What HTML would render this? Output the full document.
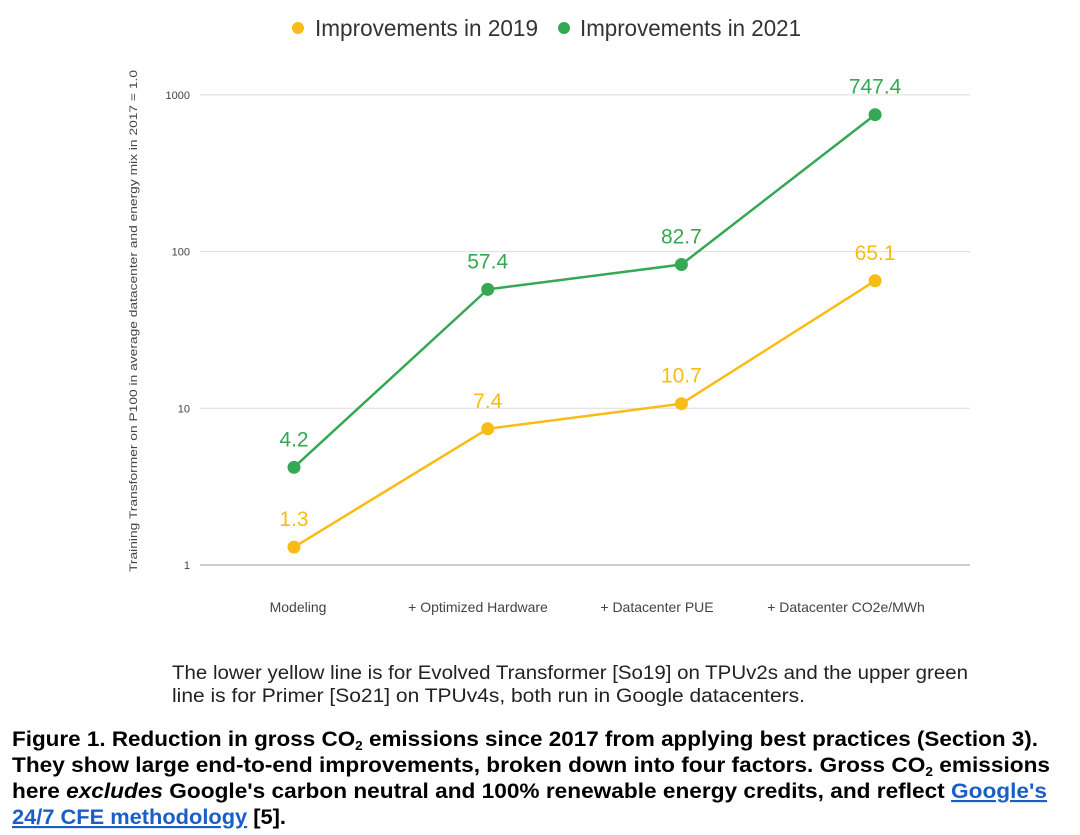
<!DOCTYPE html>
<html><head><meta charset="utf-8"><style>
body{margin:0;background:#fff;}
svg{display:block;font-family:"Liberation Sans",sans-serif;}
</style></head><body>
<svg id="chart" width="1080" height="835" viewBox="0 0 1080 835">
<g>
<circle cx="298" cy="28" r="6" fill="#f9bc15"/>
<text x="315" y="36" font-size="23" fill="#333" textLength="223" lengthAdjust="spacingAndGlyphs">Improvements in 2019</text>
<circle cx="564" cy="28" r="6" fill="#34a853"/>
<text x="580" y="36" font-size="23" fill="#333" textLength="221" lengthAdjust="spacingAndGlyphs">Improvements in 2021</text>
</g>
<text transform="translate(137,321) rotate(-90)" text-anchor="middle" font-size="11" fill="#444" textLength="502" lengthAdjust="spacingAndGlyphs">Training Transformer on P100 in average datacenter and energy mix in 2017 = 1.0</text>
<g id="grid"></g>
<g id="xl"></g>
<g id="series"></g>
<g>
<text x="172" y="679" font-size="19" fill="#222" textLength="796" lengthAdjust="spacingAndGlyphs">The lower yellow line is for Evolved Transformer [So19] on TPUv2s and the upper green</text>
<text x="172" y="702" font-size="19" fill="#222" textLength="633" lengthAdjust="spacingAndGlyphs">line is for Primer [So21] on TPUv4s, both run in Google datacenters.</text>
</g>
<g font-weight="bold" font-size="21.5" fill="#000">
<text x="12" y="746" textLength="1026" lengthAdjust="spacingAndGlyphs">Figure 1. Reduction in gross CO<tspan font-size="13" dy="4">2</tspan><tspan dy="-4"> emissions since 2017 from applying best practices (Section 3).</tspan></text>
<text x="12" y="772" textLength="1038" lengthAdjust="spacingAndGlyphs">They show large end-to-end improvements, broken down into four factors. Gross CO<tspan font-size="13" dy="4">2</tspan><tspan dy="-4"> emissions</tspan></text>
<text x="12" y="798" textLength="1035" lengthAdjust="spacingAndGlyphs">here <tspan font-style="italic">excludes</tspan> Google's carbon neutral and 100% renewable energy credits, and reflect <tspan fill="#1a5fc7" text-decoration="underline">Google's</tspan></text>
<text x="12" y="824" textLength="274" lengthAdjust="spacingAndGlyphs"><tspan fill="#1a5fc7" text-decoration="underline">24/7 CFE methodology</tspan> [5].</text>
</g>
</svg>
<script>
const categories=["Modeling","+  Optimized Hardware","+ Datacenter PUE","+ Datacenter CO2e/MWh"];
const values2019=[1.3,7.4,10.7,65.1];
const values2021=[4.2,57.4,82.7,747.4];
const yTicks=[1,10,100,1000];
const NS="http://www.w3.org/2000/svg";
function el(t,a,p){const e=document.createElementNS(NS,t);for(const k in a)e.setAttribute(k,a[k]);p.appendChild(e);return e;}
function y(v){return 565-156.7*Math.log10(v);}
function x(i){return 294+i*193.7;}
const grid=document.getElementById('grid');
yTicks.forEach(t=>{
const l=el('line',{x1:200,x2:970,y1:y(t),y2:y(t),stroke:t===1?'#999':'#ddd','stroke-width':1},grid);


const tx=el('text',{x:190,y:y(t)+4,'text-anchor':'end','font-size':11,fill:'#444'},grid);
tx.textContent=t;


});
const xl=document.getElementById('xl');
const xc=[298,478,657,846];
categories.forEach((c,i)=>{
const tx=el('text',{x:xc[i],y:612,'text-anchor':'middle','font-size':14,fill:'#444'},xl);
tx.textContent=c;


});
const ser=document.getElementById('series');
[[values2019,'#f9bc15','2019'],[values2021,'#34a853','2021']].forEach(([vals,col,nm])=>{
const pl=el('polyline',{points:vals.map((v,i)=>x(i)+','+y(v)).join(' '),fill:'none',stroke:col,'stroke-width':2.5},ser);


vals.forEach((v,i)=>{
const c=el('circle',{cx:x(i),cy:y(v),r:6.5,fill:col},ser);


const t=el('text',{x:x(i),y:y(v)-21,'text-anchor':'middle','font-size':21,fill:col},ser);
t.textContent=v;


});
});
</script>
</body></html>
